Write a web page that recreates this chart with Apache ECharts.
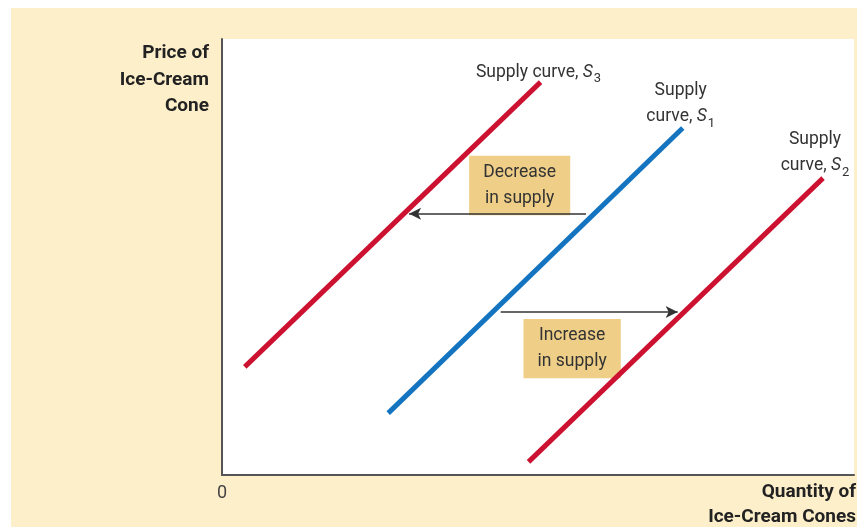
<!DOCTYPE html>
<html>
<head>
<meta charset="utf-8">
<script src="https://cdn.jsdelivr.net/npm/echarts@6/dist/echarts.min.js"></script>
<style>
  html, body { margin: 0; padding: 0; background: #fff; }
  #chart { width: 857px; height: 527px; }
</style>
</head>
<body>
<div id="chart"></div>
<script>
// supply curves, in axis units (0-100 on both axes)
const s3Points = [[3.6, 24.8], [50.4, 90.1]];
const s1Points = [[26.3, 14.2], [72.9, 79.6]];
const s2Points = [[48.5, 3.0], [95.1, 68.1]];

// shift arrows: [fromX, toX, y]
const decreaseArrow = [57.6, 29.6, 59.9];
const increaseArrow = [44.1, 72.1, 37.4];

// label boxes: [x0, y0, x1, y1]
const decreaseBox = [39.1, 59.6, 55.1, 73.2];
const increaseBox = [47.7, 22.2, 63.1, 35.8];

const FONT = 'Roboto, "Open Sans", sans-serif';
const TXT = '#333';

const chart = echarts.init(document.getElementById('chart'));

const richSub = {
    i: { fontStyle: 'italic', fontSize: 17.5, fontFamily: FONT, color: TXT },
    s: { fontSize: 13, fontFamily: FONT, color: TXT, verticalAlign: 'bottom', padding: [9, 0, 0, 1] }
};

function curve(name, pts, color, labelText, offset) {
    return {
        name: name,
        type: 'line',
        z: 5,
        symbol: 'none',
        silent: true,
        lineStyle: { color: color, width: 5, cap: 'butt' },
        data: pts,
        markPoint: {
            silent: true,
            symbol: 'circle',
            symbolSize: 0,
            label: {
                show: true,
                position: 'top',
                distance: 0,
                offset: offset,
                formatter: labelText,
                fontFamily: FONT,
                fontSize: 17.5,
                color: TXT,
                align: 'center',
                lineHeight: 26,
                rich: richSub
            },
            data: [{ coord: pts[1] }]
        }
    };
}

const option = {
    animation: false,
    backgroundColor: '#fff',
    graphic: [
        {
            type: 'rect',
            z: -10,
            shape: { x: 11, y: 8, width: 846, height: 519 },
            style: { fill: '#fdefca' }
        },
        {
            type: 'text',
            x: 209,
            y: 40,
            style: {
                text: 'Price of\nIce-Cream\nCone',
                align: 'right',
                fontFamily: FONT,
                fontWeight: 'bold',
                fontSize: 19,
                lineHeight: 26.5,
                fill: '#222'
            }
        },
        {
            type: 'text',
            x: 856,
            y: 480,
            style: {
                text: 'Quantity of\nIce-Cream Cones',
                align: 'right',
                fontFamily: FONT,
                fontWeight: 'bold',
                fontSize: 19,
                lineHeight: 25,
                fill: '#222'
            }
        }
    ],
    grid: {
        left: 222, right: 0, top: 39, bottom: 52,
        show: true, backgroundColor: '#fff', borderWidth: 0
    },
    xAxis: {
        type: 'value', min: 0, max: 100, interval: 100,
        axisLine: { show: true, lineStyle: { color: '#555', width: 2 } },
        axisTick: { show: false },
        splitLine: { show: false },
        axisLabel: {
            formatter: v => (v === 0 ? '0' : ''),
            fontFamily: FONT, fontSize: 18, color: '#444', margin: 9
        }
    },
    yAxis: {
        type: 'value', min: 0, max: 100,
        axisLine: { show: true, lineStyle: { color: '#555', width: 2 } },
        axisTick: { show: false },
        splitLine: { show: false },
        axisLabel: { show: false }
    },
    series: [
        {
            name: 'annotations',
            type: 'line',
            z: 2,
            data: [],
            markArea: {
                silent: true,
                itemStyle: { color: '#efcf88' },
                label: {
                    show: true, position: 'inside',
                    fontFamily: FONT, fontSize: 17.5, lineHeight: 26, color: TXT
                },
                data: [
                    [{ coord: [decreaseBox[0], decreaseBox[1]], name: 'Decrease\nin supply' },
                     { coord: [decreaseBox[2], decreaseBox[3]] }],
                    [{ coord: [increaseBox[0], increaseBox[1]], name: 'Increase\nin supply' },
                     { coord: [increaseBox[2], increaseBox[3]] }]
                ]
            },
            markLine: {
                silent: true,
                symbol: ['none', 'arrow'],
                symbolSize: [9, 12],
                label: { show: false },
                lineStyle: { color: '#333', width: 1.5, type: 'solid' },
                data: [
                    [{ coord: [decreaseArrow[0], decreaseArrow[2]] },
                     { coord: [decreaseArrow[1], decreaseArrow[2]] }],
                    [{ coord: [increaseArrow[0], increaseArrow[2]] },
                     { coord: [increaseArrow[1], increaseArrow[2]] }]
                ]
            }
        },
        curve('S3', s3Points, '#cc1230', 'Supply curve, {i|S}{s|3}', [-2, 3]),
        curve('S1', s1Points, '#1474c0', 'Supply\ncurve, {i|S}{s|1}', [-2, 2]),
        curve('S2', s2Points, '#cc1230', 'Supply\ncurve, {i|S}{s|2}', [-8, 1])
    ]
};

chart.setOption(option);
</script>
</body>
</html>
